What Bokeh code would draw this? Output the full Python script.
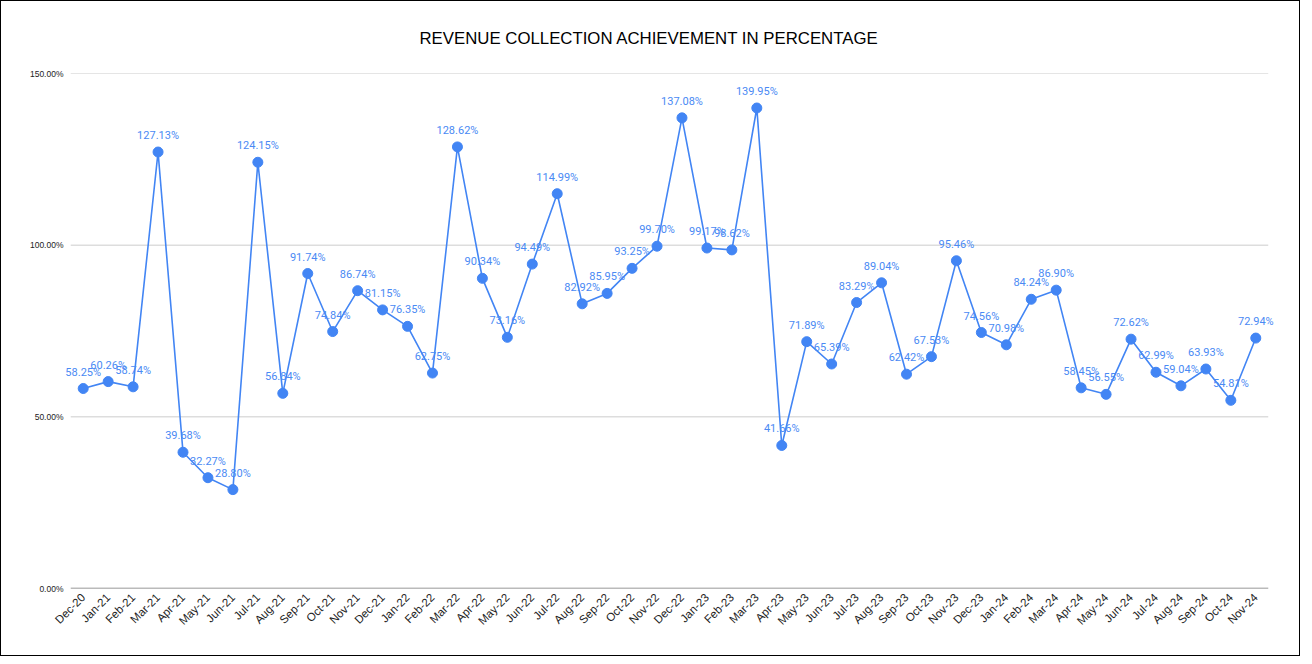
from bokeh.plotting import figure
from bokeh.models import ColumnDataSource, PrintfTickFormatter, FixedTicker, Title, Range1d
from bokeh.core.properties import value
from bokeh.embed import file_html
from bokeh.resources import INLINE
import math

months = ["Dec-20", "Jan-21", "Feb-21", "Mar-21", "Apr-21", "May-21", "Jun-21", "Jul-21", "Aug-21",
          "Sep-21", "Oct-21", "Nov-21", "Dec-21", "Jan-22", "Feb-22", "Mar-22", "Apr-22", "May-22",
          "Jun-22", "Jul-22", "Aug-22", "Sep-22", "Oct-22", "Nov-22", "Dec-22", "Jan-23", "Feb-23",
          "Mar-23", "Apr-23", "May-23", "Jun-23", "Jul-23", "Aug-23", "Sep-23", "Oct-23", "Nov-23",
          "Dec-23", "Jan-24", "Feb-24", "Mar-24", "Apr-24", "May-24", "Jun-24", "Jul-24", "Aug-24",
          "Sep-24", "Oct-24", "Nov-24"]
achievement = [58.25, 60.26, 58.74, 127.13, 39.68, 32.27, 28.80, 124.15, 56.84,
               91.74, 74.84, 86.74, 81.15, 76.35, 62.75, 128.62, 90.34, 73.16,
               94.49, 114.99, 82.92, 85.95, 93.25, 99.70, 137.08, 99.17, 98.62,
               139.95, 41.66, 71.89, 65.39, 83.29, 89.04, 62.42, 67.53, 95.46,
               74.56, 70.98, 84.24, 86.90, 58.45, 56.55, 72.62, 62.99, 59.04,
               63.93, 54.81, 72.94]
y_ticks = [0, 50, 100, 150]

n = len(months)
idx = list(range(n))
labels = ["%.2f%%" % v for v in achievement]
src = ColumnDataSource(dict(x=idx, v=achievement, t=labels))

p = figure(width=1300, height=656, x_range=Range1d(-0.75, n - 0.25),
           y_range=Range1d(0, 150), output_backend="svg", toolbar_location=None,
           min_border_left=63, min_border_right=27, min_border_top=72, min_border_bottom=69)
p.styles = {"border": "1px solid black"}
p.outline_line_color = None
p.background_fill_color = "white"

t = Title(text="REVENUE COLLECTION ACHIEVEMENT IN PERCENTAGE", align="left",
          text_font="Liberation Sans", text_font_size="16.8px", text_font_style="normal",
          text_color="#000000", offset=355, standoff=51)
p.add_layout(t, "above")

# horizontal gridlines spanning the category band, and the baseline
grid_src = ColumnDataSource(dict(y=y_ticks[1:], x0=[-0.5] * 3, x1=[n - 0.5] * 3))
p.segment(x0="x0", x1="x1", y0="y", y1="y", source=grid_src, line_color="#cccccc", line_width=1)
p.segment(x0=[-0.5], x1=[n - 0.5], y0=[0], y1=[0], line_color="#777777", line_width=1.5)

p.line("x", "v", source=src, line_color="#4285F4", line_width=1.6)
p.scatter("x", "v", source=src, size=10, fill_color="#4285F4", line_color="#4285F4")
p.text("x", "v", text="t", source=src, text_align="center", text_baseline="bottom",
       y_offset=-10, text_font=value("Roboto"), text_font_size="11px", text_color="#4a8af4")

p.xgrid.grid_line_color = None
p.ygrid.grid_line_color = None

p.yaxis.ticker = FixedTicker(ticks=y_ticks)
p.yaxis.formatter = PrintfTickFormatter(format="%.2f%%")
p.yaxis.axis_line_color = None
p.yaxis.major_tick_line_color = None
p.yaxis.minor_tick_line_color = None
p.yaxis.major_label_text_font = "Liberation Sans"
p.yaxis.major_label_text_font_size = "8.5px"
p.yaxis.major_label_text_color = "#222222"
p.yaxis.major_label_standoff = -5

p.xaxis.ticker = FixedTicker(ticks=idx)
p.xaxis.major_label_overrides = {i: m for i, m in enumerate(months)}
p.xaxis.axis_line_color = None
p.xaxis.major_tick_line_color = None
p.xaxis.minor_tick_line_color = None
p.xaxis.major_label_orientation = math.pi / 4
p.xaxis.major_label_text_font = "Liberation Sans"
p.xaxis.major_label_text_font_size = "11.5px"
p.xaxis.major_label_text_color = "#222222"
p.xaxis.major_label_standoff = 1

open("out.html", "w").write(file_html(p, INLINE))
